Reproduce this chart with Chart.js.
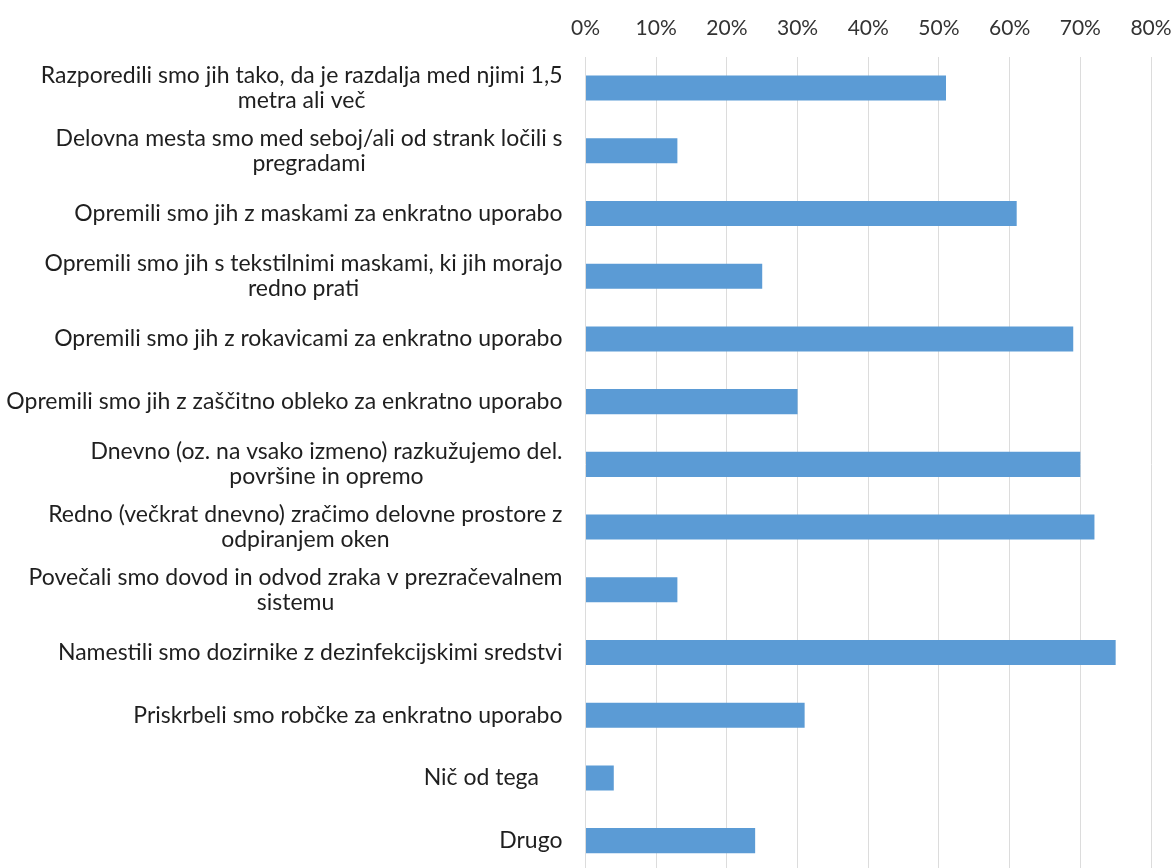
<!DOCTYPE html>
<html><head><meta charset="utf-8">
<script src="https://cdn.jsdelivr.net/npm/chart.js@4/dist/chart.umd.min.js"></script>
<style>html,body{margin:0;padding:0;overflow:hidden;background:#fff}#wrap{position:relative;width:1174px;height:872px}</style>
</head><body><div id="wrap"><canvas id="c"></canvas></div>
<script>
const categories = [
  ["Razporedili smo jih tako, da je razdalja med njimi 1,5", "metra ali več"],
  ["Delovna mesta smo med seboj/ali od strank ločili s", "pregradami"],
  ["Opremili smo jih z maskami za enkratno uporabo"],
  ["Opremili smo jih s tekstilnimi maskami, ki jih morajo", "redno prati"],
  ["Opremili smo jih z rokavicami za enkratno uporabo"],
  ["Opremili smo jih z zaščitno obleko za enkratno uporabo"],
  ["Dnevno (oz. na vsako izmeno) razkužujemo del.", "površine in opremo"],
  ["Redno (večkrat dnevno) zračimo delovne prostore z", "odpiranjem oken"],
  ["Povečali smo dovod in odvod zraka v prezračevalnem", "sistemu"],
  ["Namestili smo dozirnike z dezinfekcijskimi sredstvi"],
  ["Priskrbeli smo robčke za enkratno uporabo"],
  ["Nič od tega    "],
  ["Drugo"]
];
const values = [51, 13, 61, 25, 69, 30, 70, 72, 13, 75, 31, 4, 24];
const xMin = 0, xMax = 80, xStep = 10;

const FONT = 'Lato';
const LABEL_SIZE = 23;

const labelPlugin = {
  id: 'blockLabels',
  afterDraw(chart) {
    const ctx = chart.ctx;
    const ys = chart.scales.y;
    ctx.save();
    ctx.font = LABEL_SIZE + 'px ' + FONT;
    ctx.fillStyle = '#1f1f1f';
    ctx.textAlign = 'center';
    ctx.textBaseline = 'middle';
    const lh = 25;
    const right = ys.right - 23;
    categories.forEach((lines, i) => {
      const yc = ys.getPixelForValue(i);
      const w = Math.max(...lines.map(l => ctx.measureText(l).width));
      const cx = right - w / 2;
      lines.forEach((l, j) => {
        ctx.fillText(l, cx, yc + (j - (lines.length - 1) / 2) * lh);
      });
    });
    ctx.restore();
  }
};

new Chart(document.getElementById('c'), {
  type: 'bar',
  data: {
    labels: categories,
    datasets: [{
      data: values,
      backgroundColor: '#5B9BD5',
      barPercentage: 0.4,
      categoryPercentage: 1
    }]
  },
  options: {
    indexAxis: 'y',
    responsive: true,
    maintainAspectRatio: false,
    animation: false,
    layout: { padding: { left: 0, right: 23, top: 0, bottom: 0 } },
    plugins: { legend: { display: false }, tooltip: { enabled: false } },
    scales: {
      x: {
        type: 'linear',
        position: 'top',
        min: xMin, max: xMax,
        ticks: { stepSize: xStep, callback: v => v + '%', font: { family: FONT, size: 21 }, color: '#333', padding: 16, maxRotation: 0 },
        grid: { color: '#dcdcdc', drawTicks: false },
        border: { display: false },
        afterFit: s => { s.height = 56.7; s.paddingLeft = 0; s.paddingRight = 0; }
      },
      y: {
        type: 'category',
        ticks: { display: false },
        grid: { display: false },
        border: { display: false },
        afterFit: s => { s.width = 585.5; s.paddingTop = 0; s.paddingBottom = 0; }
      }
    }
  },
  plugins: [labelPlugin]
});
</script></body></html>
